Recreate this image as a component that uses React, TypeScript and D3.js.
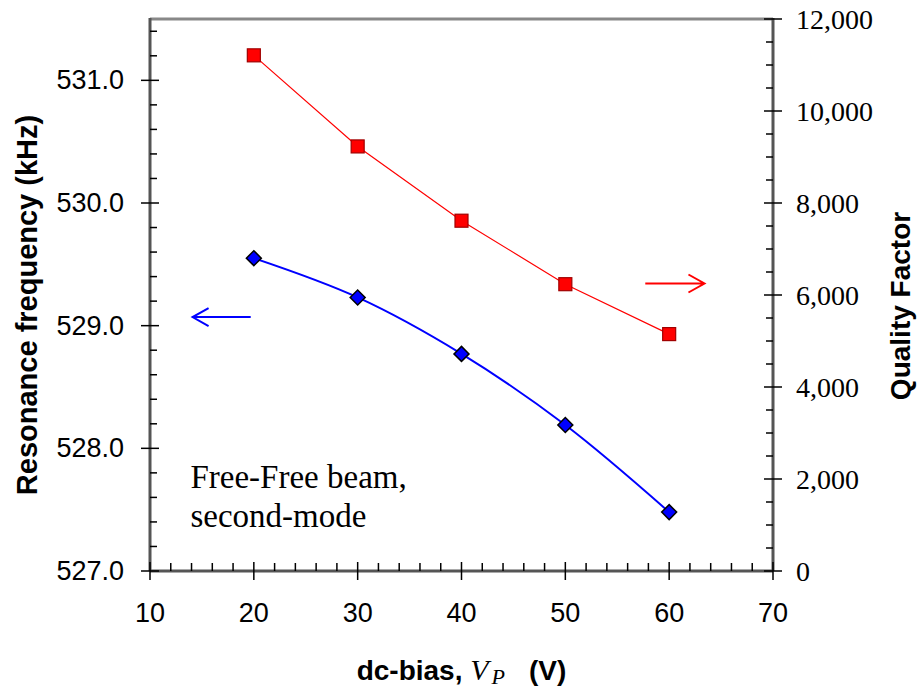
import { useEffect, useRef } from 'react';
import * as d3 from 'd3';

// dc-bias (V)
const voltages = [20, 30, 40, 50, 60];
// resonance frequency (kHz), left axis
const frequency = [529.55, 529.23, 528.77, 528.19, 527.48];
// quality factor, right axis
const qualityFactor = [11210, 9230, 7615, 6235, 5150];

const xTicks = [10, 20, 30, 40, 50, 60, 70];
const leftTicks = [527, 528, 529, 530, 531];
const rightTicks = [0, 2000, 4000, 6000, 8000, 10000, 12000];

const W = 917;
const H = 689;
const SANS = '"Liberation Sans", Arial, sans-serif';
const SERIF = '"Liberation Serif", "Times New Roman", serif';

export default function App() {
  const svgRef = useRef<SVGSVGElement | null>(null);

  useEffect(() => {
    if (!svgRef.current) return;
    const svg = d3.select(svgRef.current);
    svg.selectAll('*').remove();

    const left = 150, right = 773, top = 19, bottom = 571;

    const x = d3.scaleLinear().domain([10, 70]).range([left, right]);
    const yL = d3.scaleLinear().domain([527, 531.5]).range([bottom, top]);
    const yR = d3.scaleLinear().domain([0, 12000]).range([bottom, top]);

    // frame (top edge is gray)
    svg.append('line')
      .attr('x1', left).attr('x2', right).attr('y1', top).attr('y2', top)
      .attr('stroke', '#888').attr('stroke-width', 3);

    const axisColor = '#555';
    svg.append('line')
      .attr('x1', left).attr('x2', left).attr('y1', top - 1).attr('y2', bottom)
      .attr('stroke', axisColor).attr('stroke-width', 3);
    svg.append('line')
      .attr('x1', right).attr('x2', right).attr('y1', top - 1).attr('y2', bottom)
      .attr('stroke', axisColor).attr('stroke-width', 3);
    svg.append('line')
      .attr('x1', left).attr('x2', right).attr('y1', bottom).attr('y2', bottom)
      .attr('stroke', axisColor).attr('stroke-width', 3);

    const ticks = svg.append('g').attr('stroke', '#000').attr('stroke-width', 1.5);

    // x ticks: minor every 2, major every 10 crossing the axis
    d3.range(12, 70, 2).filter(v => v % 10 !== 0).forEach(v => {
      ticks.append('line')
        .attr('x1', x(v)).attr('x2', x(v)).attr('y1', bottom).attr('y2', bottom - 8);
    });
    xTicks.forEach(v => {
      ticks.append('line')
        .attr('x1', x(v)).attr('x2', x(v)).attr('y1', bottom + 9).attr('y2', bottom - 9);
    });

    // left ticks: minor every 0.2
    d3.range(527.2, 531.5, 0.2).filter(v => Math.abs(v - Math.round(v)) > 0.01).forEach(v => {
      ticks.append('line')
        .attr('x1', left).attr('x2', left + 7).attr('y1', yL(v)).attr('y2', yL(v));
    });
    leftTicks.forEach(v => {
      ticks.append('line')
        .attr('x1', left - 9).attr('x2', left + 9).attr('y1', yL(v)).attr('y2', yL(v));
    });

    // right ticks: minor every 500
    d3.range(500, 12000, 500).filter(v => v % 2000 !== 0).forEach(v => {
      ticks.append('line')
        .attr('x1', right).attr('x2', right - 7).attr('y1', yR(v)).attr('y2', yR(v));
    });
    rightTicks.forEach(v => {
      ticks.append('line')
        .attr('x1', right - 9).attr('x2', right + 9).attr('y1', yR(v)).attr('y2', yR(v));
    });

    // tick labels
    svg.append('g').selectAll('text')
      .data(xTicks).enter().append('text')
      .attr('x', d => x(d)).attr('y', 622)
      .attr('text-anchor', 'middle')
      .style('font-family', SANS).style('font-size', '27px')
      .text(d => d);

    svg.append('g').selectAll('text')
      .data(leftTicks).enter().append('text')
      .attr('x', 124).attr('y', d => yL(d))
      .attr('text-anchor', 'end').attr('dominant-baseline', 'central')
      .style('font-family', SANS).style('font-size', '27px')
      .text(d => d3.format('.1f')(d));

    svg.append('g').selectAll('text')
      .data(rightTicks).enter().append('text')
      .attr('x', 796).attr('y', d => yR(d))
      .attr('text-anchor', 'start').attr('dominant-baseline', 'central')
      .style('font-family', SERIF).style('font-size', '28px')
      .text(d => d3.format(',')(d));

    // axis titles
    svg.append('text')
      .attr('transform', `translate(27,${(top + bottom) / 2 + 10}) rotate(-90)`)
      .attr('text-anchor', 'middle').attr('dominant-baseline', 'central')
      .style('font-family', SANS).style('font-size', '29px').style('font-weight', 'bold')
      .text('Resonance frequency (kHz)');

    svg.append('text')
      .attr('transform', `translate(900,${(top + bottom) / 2 + 11}) rotate(-90)`)
      .attr('text-anchor', 'middle').attr('dominant-baseline', 'central')
      .style('font-family', SANS).style('font-size', '28px').style('font-weight', 'bold')
      .text('Quality Factor');

    const xt = svg.append('text')
      .attr('x', (left + right) / 2).attr('y', 680)
      .attr('text-anchor', 'middle');
    xt.append('tspan')
      .style('font-family', SANS).style('font-size', '28px').style('font-weight', 'bold')
      .text('dc-bias, ');
    xt.append('tspan')
      .style('font-family', SERIF).style('font-size', '30px').style('font-style', 'italic')
      .text('V');
    xt.append('tspan')
      .attr('dy', 4).attr('dx', 3)
      .style('font-family', SERIF).style('font-size', '22px').style('font-style', 'italic')
      .text('P');
    xt.append('tspan')
      .attr('dy', -4).attr('dx', 24)
      .style('font-family', SANS).style('font-size', '28px').style('font-weight', 'bold')
      .text('(V)');

    // quality factor series (red squares)
    const qLine = d3.line<number>()
      .x((_, i) => x(voltages[i]))
      .y(d => yR(d));
    svg.append('path')
      .attr('d', qLine(qualityFactor))
      .attr('fill', 'none').attr('stroke', '#ff0000').attr('stroke-width', 1.2);
    svg.append('g').selectAll('rect')
      .data(qualityFactor).enter().append('rect')
      .attr('x', (_, i) => x(voltages[i]) - 6.5)
      .attr('y', d => yR(d) - 6.5)
      .attr('width', 13).attr('height', 13)
      .attr('fill', '#ff0000').attr('stroke', '#a00000').attr('stroke-width', 1.2);

    // frequency series (blue diamonds, smoothed line)
    const fLine = d3.line<number>()
      .x((_, i) => x(voltages[i]))
      .y(d => yL(d))
      .curve(d3.curveCatmullRom.alpha(0.5));
    svg.append('path')
      .attr('d', fLine(frequency))
      .attr('fill', 'none').attr('stroke', '#0000ff').attr('stroke-width', 2);
    const diamond = d3.symbol().type(d3.symbolSquare).size(112);
    svg.append('g').selectAll('path')
      .data(frequency).enter().append('path')
      .attr('d', diamond())
      .attr('transform', (d, i) => `translate(${x(voltages[i])},${yL(d)}) rotate(45)`)
      .attr('fill', '#0000ff').attr('stroke', '#000').attr('stroke-width', 1.5);

    // direction arrows
    const arrow = (x0: number, x1: number, y: number, color: string) => {
      const dir = x1 > x0 ? 1 : -1;
      svg.append('path')
        .attr('d', `M${x0},${y}L${x1},${y}M${x1 - dir * 16},${y - 9}L${x1},${y}L${x1 - dir * 16},${y + 9}`)
        .attr('fill', 'none').attr('stroke', color).attr('stroke-width', 2);
    };
    arrow(x(19.7), x(14.1), yL(529.07), '#0000ff');
    arrow(x(57.7), x(63.4), yR(6250), '#ff0000');

    // annotation
    const note = svg.append('text')
      .style('font-family', SERIF).style('font-size', '33px');
    note.append('tspan').attr('x', x(13.9)).attr('y', 488).text('Free-Free beam,');
    note.append('tspan').attr('x', x(13.9)).attr('y', 527).text('second-mode');
  }, []);

  return (
    <svg
      ref={svgRef}
      width={W}
      height={H}
      style={{ position: 'fixed', left: 0, top: 0, background: '#fff', display: 'block' }}
    />
  );
}
